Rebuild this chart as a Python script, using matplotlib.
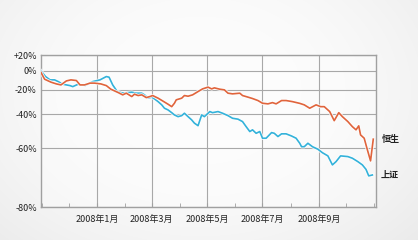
import numpy as np
import pandas as pd
import matplotlib
matplotlib.use("Agg")
import matplotlib.pyplot as plt
import matplotlib.dates as mdates
import matplotlib.patheffects as pe
from matplotlib.ticker import FixedLocator, FixedFormatter, NullLocator

plt.rcParams['font.family'] = ['Noto Sans CJK SC', 'DejaVu Sans']

base_date = "2007-10-31"
# days since base_date, cumulative % change
hsi_days = [0, 4, 11, 17, 22, 28, 33, 39, 43, 48, 54, 59, 66, 72, 77, 85, 90, 94, 100, 103,
            107, 111, 116, 120, 123, 129, 134, 140, 144, 147, 149, 155, 158, 162, 167, 173,
            178, 184, 188, 191, 197, 202, 206, 211, 219, 222, 228, 233, 239, 244, 250, 255,
            259, 265, 270, 277, 285, 290, 296, 303, 308, 312, 318, 323, 328, 332, 338, 343,
            347, 350, 352, 356, 359, 363, 366]
hsi_pct = [-1.8, -9.4, -12.5, -14.3, -15.3, -11.2, -10.1, -10.8, -15.3, -15.3, -13.5, -13.5,
           -14.3, -16.0, -19.5, -22.6, -24.7, -23.2, -26.2, -24.1, -25.3, -24.7, -27.1, -26.2,
           -25.3, -27.6, -29.9, -32.6, -34.5, -31.8, -29.0, -27.6, -25.3, -25.9, -24.7, -21.7,
           -19.2, -17.5, -19.2, -18.2, -19.5, -20.1, -23.2, -23.8, -23.2, -25.3, -26.7, -27.9,
           -29.6, -31.8, -32.3, -31.3, -32.3, -29.6, -29.6, -30.5, -31.9, -33.1, -35.7, -33.1,
           -34.5, -34.5, -38.2, -44.5, -39.0, -41.8, -45.1, -48.3, -50.2, -47.8, -53.1, -54.9,
           -59.9, -65.5, -55.4]

sse_days = [0, 5, 10, 15, 19, 24, 32, 35, 41, 44, 49, 57, 65, 72, 75, 79, 84, 89, 93, 100,
            105, 111, 114, 118, 122, 125, 129, 133, 136, 140, 144, 147, 151, 155, 158, 162,
            166, 169, 173, 177, 180, 186, 189, 195, 200, 206, 211, 217, 222, 226, 230, 233,
            237, 241, 244, 248, 254, 257, 261, 265, 270, 276, 281, 285, 287, 290, 294, 299,
            305, 310, 316, 321, 325, 330, 338, 343, 349, 354, 358, 361, 365]
sse_pct = [0.0, -6.5, -10.1, -10.1, -11.9, -14.6, -16.0, -17.0, -14.6, -15.3, -15.8, -11.9,
           -10.1, -6.5, -7.2, -15.3, -21.7, -22.9, -22.9, -22.3, -23.2, -23.2, -24.7, -27.6,
           -26.7, -28.2, -30.5, -33.1, -35.7, -37.0, -39.0, -40.6, -41.8, -41.1, -39.4, -41.8,
           -44.0, -46.1, -47.7, -40.6, -41.8, -38.2, -39.0, -38.2, -39.4, -41.1, -42.9, -43.5,
           -45.1, -48.3, -51.2, -50.2, -52.2, -51.2, -54.9, -54.9, -51.8, -52.2, -54.0, -52.5,
           -52.5, -53.7, -54.9, -57.5, -59.2, -59.2, -57.5, -59.2, -60.4, -62.0, -63.4, -67.1,
           -65.8, -63.4, -63.7, -64.4, -65.8, -67.1, -68.8, -71.1, -70.8]

series_names = ["恒生", "上证"]
ytick_vals = [20, 0, -20, -40, -60, -80]
ytick_labels = ["+20%", "0%", "-20%", "-40%", "-60%", "-80%"]
x_start, x_end = "2007-10-31", "2008-11-03"

base = pd.Timestamp(base_date)
hsi_x = base + pd.to_timedelta(hsi_days, unit="D")
sse_x = base + pd.to_timedelta(sse_days, unit="D")
hsi_v = 1 + np.array(hsi_pct) / 100
sse_v = 1 + np.array(sse_pct) / 100

fig = plt.figure(figsize=(4.18, 2.40), dpi=100)
fig.patch.set_facecolor("#f2f2f2")

# soft vignette background
bg = fig.add_axes([0, 0, 1, 1], zorder=-10)
yy, xx = np.mgrid[0:240, 0:418]
r = np.sqrt(((xx - 200) / 260.0) ** 2 + ((yy - 90) / 190.0) ** 2)
shade = 0.985 - 0.09 * np.clip(r - 0.35, 0, None) ** 1.5
bg.imshow(np.dstack([shade] * 3), aspect="auto", extent=[0, 1, 0, 1], origin="upper")
bg.set_axis_off()

ax = fig.add_axes([0.098, 0.1375, 0.8015, 0.6315])
ax.set_facecolor((1, 1, 1, 0.35))

red = "#e0643c"
blue = "#33b2da"
glow = [pe.withStroke(linewidth=2.4, foreground=(1, 1, 1, 0.85))]
ax.plot(sse_x, sse_v, color=blue, lw=1.2, path_effects=glow, zorder=3)
ax.plot(hsi_x, hsi_v, color=red, lw=1.2, path_effects=glow, zorder=4)

ax.set_yscale("log")
ax.set_ylim(0.2, 1.2)
ax.yaxis.set_major_locator(FixedLocator([1 + v / 100 for v in ytick_vals]))
ax.yaxis.set_major_formatter(FixedFormatter(ytick_labels))
ax.yaxis.set_minor_locator(NullLocator())

ax.set_xlim(pd.Timestamp(x_start), pd.Timestamp(x_end))
ax.xaxis.set_major_locator(mdates.MonthLocator(bymonth=[1, 3, 5, 7, 9]))
ax.xaxis.set_minor_locator(mdates.MonthLocator())
ax.xaxis.set_major_formatter(mdates.DateFormatter("%Y年%-m月"))

ax.grid(True, which="major", color="#a8a8a8", lw=0.8)
ax.set_axisbelow(True)
for s in ax.spines.values():
    s.set_color("#a0a0a0")
    s.set_linewidth(1.0)

ax.tick_params(axis="y", length=0, pad=3, labelsize=6.5, labelcolor="#222222")
ax.tick_params(axis="x", which="both", direction="in", length=3, color="#a0a0a0",
               pad=6, labelsize=6.5, labelcolor="#222222")

for x, v, name in [(hsi_x[-1], hsi_v[-1], series_names[0]),
                   (sse_x[-1], sse_v[-1], series_names[1])]:
    ax.annotate(name, xy=(x, v), xytext=(6, 0), textcoords="offset points",
                va="center", ha="left", fontsize=6.5, fontweight="bold",
                color="#222222", annotation_clip=False)

fig.savefig("out.png", dpi=100, facecolor=fig.get_facecolor())
